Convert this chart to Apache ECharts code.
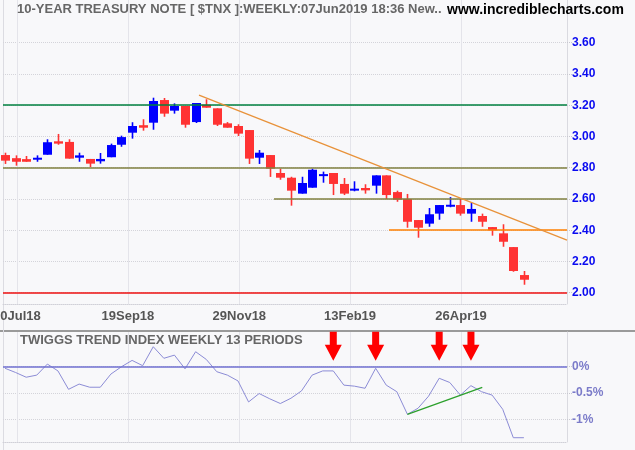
<!DOCTYPE html>
<html>
<head>
<meta charset="utf-8">
<script src="https://cdn.jsdelivr.net/npm/echarts@6/dist/echarts.min.js"></script>
<style>
html,body{margin:0;padding:0;background:#f8f8fa;}
#c{width:635px;height:450px;}
</style>
</head>
<body>
<div id="c"></div>
<script>
// ---- data (weekly candles, Friday dates) ----
const weeks = ['29Jun18','06Jul18','13Jul18','20Jul18','27Jul18','03Aug18','10Aug18','17Aug18','24Aug18','31Aug18',
  '07Sep18','14Sep18','21Sep18','28Sep18','05Oct18','12Oct18','19Oct18','26Oct18','02Nov18','09Nov18',
  '16Nov18','23Nov18','30Nov18','07Dec18','14Dec18','21Dec18','28Dec18','04Jan19','11Jan19','18Jan19',
  '25Jan19','01Feb19','08Feb19','15Feb19','22Feb19','01Mar19','08Mar19','15Mar19','22Mar19','29Mar19',
  '05Apr19','12Apr19','19Apr19','26Apr19','03May19','10May19','17May19','24May19','31May19','07Jun19'];
const open  = [2.881,2.861,2.855,2.855,2.883,2.969,2.965,2.864,2.856,2.841,2.867,2.947,3.024,3.072,3.088,3.233,3.165,3.195,3.092,3.203,
  3.180,3.084,3.067,3.041,2.864,2.881,2.766,2.736,2.634,2.672,2.750,2.766,2.696,2.657,2.670,2.685,2.751,2.644,2.600,2.465,
  2.442,2.506,2.554,2.561,2.506,2.491,2.420,2.380,2.292,2.113];
const close = [2.845,2.838,2.838,2.860,2.963,2.954,2.858,2.879,2.826,2.856,2.945,2.996,3.067,3.056,3.227,3.146,3.195,3.075,3.214,3.184,
  3.075,3.056,3.018,2.858,2.896,2.794,2.736,2.653,2.702,2.787,2.755,2.696,2.634,2.662,2.655,2.751,2.625,2.595,2.454,2.416,
  2.502,2.561,2.559,2.506,2.536,2.454,2.399,2.326,2.139,2.083];
const high  = [2.896,2.879,2.875,2.879,2.982,3.016,2.982,2.896,2.856,2.894,2.954,3.005,3.091,3.110,3.248,3.246,3.212,3.195,3.214,3.238,
  3.180,3.092,3.078,3.041,2.913,2.881,2.794,2.742,2.742,2.794,2.775,2.766,2.734,2.713,2.694,2.751,2.751,2.653,2.632,2.465,
  2.542,2.561,2.612,2.602,2.576,2.506,2.420,2.438,2.292,2.139];
const low   = [2.824,2.813,2.838,2.838,2.883,2.947,2.858,2.838,2.804,2.826,2.867,2.934,2.986,3.037,3.043,3.126,3.146,3.056,3.086,3.184,
  3.067,3.056,3.003,2.824,2.824,2.741,2.723,2.557,2.634,2.672,2.704,2.625,2.625,2.649,2.634,2.634,2.600,2.582,2.416,2.352,
  2.422,2.467,2.547,2.493,2.454,2.422,2.365,2.294,2.134,2.051];
// Twiggs Trend Index (13 week), percent
const tti = [-0.03,-0.11,-0.20,-0.16,0.05,-0.08,-0.43,-0.33,-0.39,-0.39,-0.14,0.00,0.12,0.02,0.38,0.16,0.22,-0.04,0.285,0.14,
  -0.095,-0.16,-0.27,-0.67,-0.51,-0.61,-0.70,-0.60,-0.46,-0.16,-0.08,-0.08,-0.35,-0.37,-0.41,-0.03,-0.35,-0.475,-0.905,-0.79,
  -0.56,-0.22,-0.30,-0.54,-0.36,-0.475,-0.54,-0.81,-1.35,-1.35];
// x-axis date labels (positions in week-index units)
const dateTickPos = [1.13, 11.61, 22.13, 32.58, 43.06];
const dateTickLabels = ['10Jul18','19Sep18','29Nov18','13Feb19','26Apr19'];
const priceTicks = [2.0,2.2,2.4,2.6,2.8,3.0,3.2,3.4,3.6];
const ttiTicks = [0,-0.5,-1];
// annotations
const supportLevels = [3.2, 2.8, 2.0];
const arrowWeeks = [31, 35, 41, 44];

const FONT = '"Liberation Sans", Arial, sans-serif';
const X_MIN = -0.189, X_MAX = 53.07;
const UP = '#0000ff', DOWN = '#ff3333';

const candleData = weeks.map((w,i)=>[i, open[i], close[i], low[i], high[i]]);
const ttiData = weeks.map((w,i)=>[i, tti[i]]);

function dateLabel(v){
  for (let j=0;j<dateTickPos.length;j++) if (Math.abs(dateTickPos[j]-v)<0.01) return dateTickLabels[j];
  return '';
}

const chart = echarts.init(document.getElementById('c'), null, {renderer:'canvas'});
const option = {
  backgroundColor:'#f8f8fa',
  animation:false,
  title:[
    {text:'10-YEAR TREASURY NOTE [ $TNX ]:WEEKLY:07Jun2019 18:36 New..', left:17, top:3, padding:0,
      textStyle:{fontSize:13, fontWeight:'bold', color:'#666666', fontFamily:FONT}},
    {text:'www.incrediblecharts.com', left:447, top:3, padding:0,
      textStyle:{fontSize:14, fontWeight:'bold', color:'#000000', fontFamily:FONT}},
    {text:'TWIGGS TREND INDEX WEEKLY 13 PERIODS', left:20, top:334, padding:0,
      textStyle:{fontSize:13, fontWeight:'bold', color:'#666666', fontFamily:FONT}}
  ],
  graphic:[
    {type:'rect', shape:{x:0, y:330, width:635, height:2}, style:{fill:'#9a9a9a'}, silent:true},
    {type:'line', shape:{x1:3.5, y1:0, x2:3.5, y2:450}, style:{stroke:'#dcdce2', lineWidth:1}, silent:true}
  ],
  grid:[
    {left:3, right:68, top:0, height:304, containLabel:false, outerBoundsMode:'none'},
    {left:3, right:68, top:332, height:110, containLabel:false, outerBoundsMode:'none'}
  ],
  xAxis:[
    {type:'value', gridIndex:0, min:X_MIN, max:X_MAX, position:'bottom',
      axisLine:{show:true, onZero:false, lineStyle:{color:'#d0d0d8', type:'dotted'}},
      axisTick:{show:false, customValues:dateTickPos},
      axisLabel:{show:true, customValues:dateTickPos, formatter:dateLabel, margin:6, hideOverlap:false,
        color:'#555555', fontWeight:'bold', fontSize:13, fontFamily:FONT},
      splitLine:{show:true, lineStyle:{color:'#e4e4ea', width:1}}},
    {type:'value', gridIndex:1, min:X_MIN, max:X_MAX, position:'bottom',
      axisLine:{show:true, onZero:false, lineStyle:{color:'#d0d0d8', type:'dotted'}},
      axisTick:{show:false, customValues:dateTickPos},
      axisLabel:{show:false, customValues:dateTickPos},
      splitLine:{show:true, lineStyle:{color:'#e4e4ea', width:1}}}
  ],
  yAxis:[
    {type:'value', gridIndex:0, position:'right', min:1.9277, max:3.8733,
      axisLine:{show:true, onZero:false, lineStyle:{color:'#dadae0'}},
      axisTick:{show:true, length:5, customValues:priceTicks, lineStyle:{color:'#c8c8d0', type:'dotted'}},
      axisLabel:{customValues:priceTicks, formatter:v=>v.toFixed(2), margin:5,
        color:'#0a0af0', fontWeight:'bold', fontSize:12, fontFamily:FONT},
      splitLine:{show:true, lineStyle:{color:'#d4d4da', type:'dotted'}}},
    {type:'value', gridIndex:1, position:'right', min:-1.4316, max:0.66,
      axisLine:{show:true, onZero:false, lineStyle:{color:'#dadae0'}},
      axisTick:{show:true, length:5, customValues:ttiTicks, lineStyle:{color:'#c8c8d0', type:'dotted'}},
      axisLabel:{customValues:ttiTicks, formatter:v=>(Math.round(v*10)/10)+'%', margin:5,
        color:'#7b7bc9', fontWeight:'bold', fontSize:12, fontFamily:FONT},
      splitLine:{show:true, lineStyle:{color:'#d4d4da', type:'dotted'}}}
  ],
  series:[
    {type:'line', xAxisIndex:0, yAxisIndex:0, data:[], z:1, silent:true,
      markLine:{silent:true, symbol:['none','none'], label:{show:false}, animation:false,
        data:[
          {yAxis:supportLevels[0], lineStyle:{color:'#00803f', width:1.5, type:'solid'}},
          {yAxis:supportLevels[1], lineStyle:{color:'#80803f', width:1.5, type:'solid'}},
          [{coord:[25.4, 2.6]}, {coord:[X_MAX, 2.6], lineStyle:{color:'#80803f', width:1.5, type:'solid'}}],
          [{coord:[36.26, 2.4]}, {coord:[X_MAX, 2.4], lineStyle:{color:'#ff8000', width:1.5, type:'solid'}}],
          [{coord:[18.32, 3.265]}, {coord:[X_MAX, 2.337], lineStyle:{color:'#e8923a', width:1.3, type:'solid'}}],
          {yAxis:supportLevels[2], lineStyle:{color:'#ee1111', width:1.5, type:'solid'}}
        ]}},
    {type:'custom', xAxisIndex:0, yAxisIndex:0, z:3, data:candleData, encode:{x:0, y:[1,2,3,4]},
      renderItem:function(params, api){
        const x = api.value(0), o = api.value(1), c = api.value(2), l = api.value(3), h = api.value(4);
        const pO = api.coord([x,o]), pC = api.coord([x,c]), pL = api.coord([x,l]), pH = api.coord([x,h]);
        const color = c >= o ? UP : DOWN;
        const cx = Math.round(pO[0]);
        let top = Math.min(pO[1], pC[1]), bot = Math.max(pO[1], pC[1]);
        if (bot - top < 2) { const m = (top+bot)/2; top = m-1; bot = m+1; }
        const w = 9;
        return {type:'group', children:[
          {type:'line', shape:{x1:cx+0.5, y1:pH[1], x2:cx+0.5, y2:pL[1]}, style:{stroke:color, lineWidth:1.6}},
          {type:'rect', shape:{x:cx-4, y:top, width:w, height:bot-top}, style:{fill:color}}
        ]};
      }},
    {type:'line', xAxisIndex:1, yAxisIndex:1, data:[], z:1, silent:true,
      markLine:{silent:true, symbol:['none','none'], label:{show:false}, animation:false,
        data:[{yAxis:0, lineStyle:{color:'#7070d0', width:1.5, type:'solid'}}]}},
    {type:'line', xAxisIndex:1, yAxisIndex:1, data:ttiData, z:3, showSymbol:false, silent:true,
      lineStyle:{color:'#8c8cd6', width:1},
      markLine:{silent:true, symbol:['none','none'], label:{show:false}, animation:false,
        data:[[{coord:[38, -0.905]}, {coord:[45.07, -0.392], lineStyle:{color:'#2ca02c', width:1.3, type:'solid'}}]]},
      markPoint:{silent:true, animation:false, label:{show:false},
        symbol:'path://M5,0 L12,0 L12,13 L17,13 L8.5,29 L0,13 L5,13 Z', symbolSize:[17,29],
        itemStyle:{color:'#ff0000'},
        data:arrowWeeks.map(i=>({coord:[i, 0.388]}))}}
  ]
};
chart.setOption(option);
</script>
</body>
</html>
